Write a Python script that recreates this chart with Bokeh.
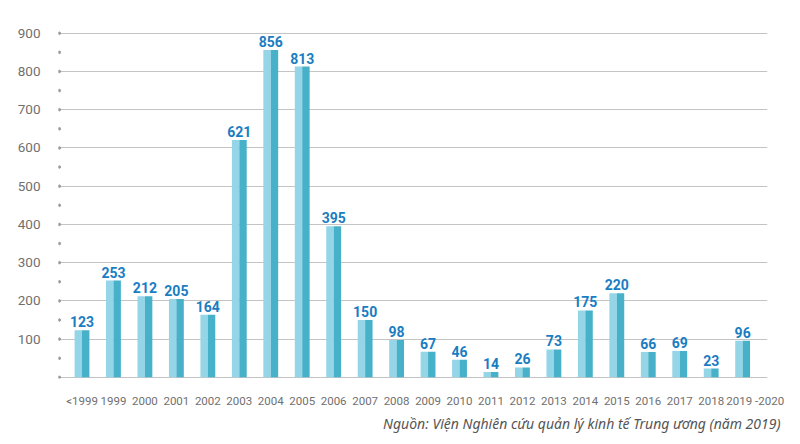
from bokeh.plotting import figure
from bokeh.models import Range1d, FixedTicker, ColumnDataSource, Title
from bokeh.transform import dodge
from bokeh.core.properties import value
from bokeh.embed import file_html
from bokeh.resources import INLINE

categories = ["<1999", "1999", "2000", "2001", "2002", "2003", "2004", "2005", "2006", "2007",
              "2008", "2009", "2010", "2011", "2012", "2013", "2014", "2015", "2016", "2017",
              "2018", "2019 -2020"]
values = [123, 253, 212, 205, 164, 621, 856, 813, 395, 150, 98, 67, 46, 14, 26, 73,
          175, 220, 66, 69, 23, 96]
y_ticks = [0, 100, 200, 300, 400, 500, 600, 700, 800, 900]
minor_ticks = [0, 50, 100, 150, 200, 250, 300, 350, 400, 450, 500, 550, 600, 650, 700, 750, 800, 850, 900]
source_note = "Nguồn: Viện Nghiên cứu quản lý kinh tế Trung ương (năm 2019)"

idx = list(range(len(categories)))
src = ColumnDataSource(dict(x=idx, v=values, lab=[str(v) for v in values]))

p = figure(width=784, height=436, output_backend="svg", toolbar_location=None,
           x_range=Range1d(-0.747, 21.79), y_range=Range1d(-3, 915),
           min_border_left=58, min_border_right=17, min_border_top=27, min_border_bottom=58)
p.outline_line_color = None
p.background_fill_color = "white"

p.vbar(x=dodge("x", -0.118, range=p.x_range), top="v", width=0.236, bottom=0,
       source=src, fill_color="#94d5e8", line_color=None)
p.vbar(x=dodge("x", 0.118, range=p.x_range), top="v", width=0.236, bottom=0,
       source=src, fill_color="#46b1c9", line_color=None)

p.text(x="x", y="v", text="lab", source=src, text_align="center", text_baseline="bottom",
       y_offset=-3, text_color="#1a7dc2", text_font=value("Roboto"),
       text_font_style="bold", text_font_size="14px")

p.scatter(x=[-0.72] * len(minor_ticks), y=minor_ticks, size=2.5, color="#999999", marker="circle")

p.ygrid.ticker = FixedTicker(ticks=y_ticks)
p.ygrid.grid_line_color = "#c4c4c4"
p.ygrid.grid_line_width = 1.2
p.xgrid.grid_line_color = None

p.yaxis.ticker = FixedTicker(ticks=[t for t in y_ticks if t > 0])
p.yaxis.axis_line_color = None
p.yaxis.major_tick_line_color = None
p.yaxis.minor_tick_line_color = None
p.yaxis.major_label_standoff = 12
p.yaxis.major_label_text_color = "#707070"
p.yaxis.major_label_text_font = "Roboto"
p.yaxis.major_label_text_font_size = "13.5px"

# last label sits a little to the right of its bar, as in the original
label_pos = [float(i) for i in idx[:-1]] + [idx[-1] + 0.4]
p.xaxis.ticker = FixedTicker(ticks=label_pos)
p.xaxis.major_label_overrides = {pos: c for pos, c in zip(label_pos, categories)}
p.xaxis.axis_line_color = None
p.xaxis.major_tick_line_color = None
p.xaxis.minor_tick_line_color = None
p.xaxis.major_label_standoff = 9
p.xaxis.major_label_text_color = "#707070"
p.xaxis.major_label_text_font = "Roboto"
p.xaxis.major_label_text_font_size = "11.5px"

t = Title(text=source_note, align="right", text_font_style="italic", text_font="Noto Sans",
          text_font_size="14px", text_color="#555555", offset=-13, standoff=3)
p.add_layout(t, "below")

open("out.html", "w").write(file_html(p, INLINE))
